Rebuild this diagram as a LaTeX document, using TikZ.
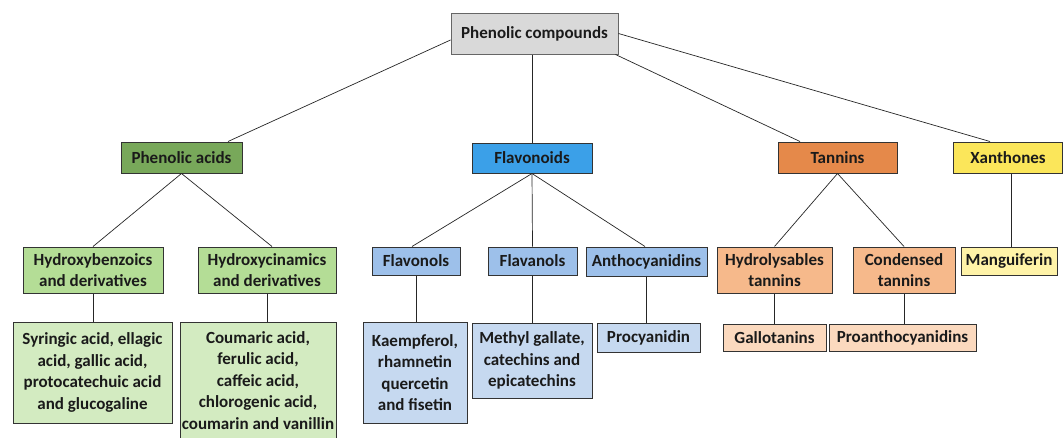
\documentclass[tikz,border=0pt]{standalone}
\usepackage{fontspec}
\setmainfont{Carlito}
\definecolor{topfill}{HTML}{D9D9D9}
\definecolor{pafill}{HTML}{78A85A}
\definecolor{gmid}{HTML}{B4DD96}
\definecolor{glight}{HTML}{D3EBC1}
\definecolor{flfill}{HTML}{3BA0E8}
\definecolor{bmid}{HTML}{9DC0EA}
\definecolor{blight}{HTML}{C6D9F0}
\definecolor{tafill}{HTML}{E5894A}
\definecolor{omid}{HTML}{F6B98B}
\definecolor{olight}{HTML}{FBD9BE}
\definecolor{xafill}{HTML}{FBE65A}
\definecolor{ylight}{HTML}{FFF3A8}
\definecolor{txt}{HTML}{1A1A1A}
\tikzset{
  boxnode/.style={draw=black!80, line width=1pt, inner sep=0pt, align=center,
    text=txt, font=\fontsize{17}{21.5}\selectfont\bfseries},
  conn/.style={draw=black!85, line width=0.7pt},
}
\begin{document}
\begin{tikzpicture}[x=1pt,y=-1pt]
\useasboundingbox[fill=white] (0,0) rectangle (1064,437);
% level 0
\node[boxnode, fill=topfill, draw=black!60, minimum width=167pt, minimum height=41pt] (top) at (534.5,33.5) {Phenolic compounds};
% level 1
\node[boxnode, fill=pafill, minimum width=121pt, minimum height=31pt] (pa) at (181.5,157.5) {Phenolic acids};
\node[boxnode, fill=flfill, minimum width=120pt, minimum height=30pt] (fl) at (532,158) {Flavonoids};
\node[boxnode, fill=tafill, minimum width=119pt, minimum height=31pt] (ta) at (837.5,157.5) {Tannins};
\node[boxnode, fill=xafill, minimum width=109pt, minimum height=31pt] (xa) at (1008,157.5) {Xanthones};
% level 2
\node[boxnode, fill=gmid, minimum width=140pt, minimum height=46pt] (hb) at (93,270) {Hydroxybenzoics\\and derivatives};
\node[boxnode, fill=gmid, minimum width=138pt, minimum height=46pt] (hc) at (267,270) {Hydroxycinamics\\and derivatives};
\node[boxnode, fill=bmid, minimum width=88pt, minimum height=28pt] (fo) at (416,261) {Flavonols};
\node[boxnode, fill=bmid, minimum width=89pt, minimum height=28pt] (fa) at (532.5,261) {Flavanols};
\node[boxnode, fill=bmid, minimum width=121pt, minimum height=29pt] (an) at (646.5,261.5) {Anthocyanidins};
\node[boxnode, fill=omid, minimum width=115pt, minimum height=46pt] (hy) at (774.5,270) {Hydrolysables\\tannins};
\node[boxnode, fill=omid, minimum width=102pt, minimum height=46pt] (cd) at (904,270) {Condensed\\tannins};
\node[boxnode, fill=ylight, minimum width=96pt, minimum height=28pt] (ma) at (1009,261) {Manguiferin};
% level 3
\node[boxnode, fill=glight, minimum width=159pt, minimum height=101pt] (sy) at (92.5,372.5) {Syringic acid, ellagic\\acid, gallic acid,\\protocatechuic acid\\and glucogaline};
\node[boxnode, fill=glight, minimum width=156pt, minimum height=117pt] (co) at (258,380.5) {Coumaric acid,\\ferulic acid,\\caffeic acid,\\chlorogenic acid,\\coumarin and vanillin};
\node[boxnode, fill=blight, minimum width=104pt, minimum height=101pt] (ka) at (415,372.5) {Kaempferol,\\rhamnetin\\quercetin\\and fisetin};
\node[boxnode, fill=blight, minimum width=120pt, minimum height=75pt] (me) at (532,360.5) {Methyl gallate,\\catechins and\\epicatechins};
\node[boxnode, fill=blight, minimum width=103pt, minimum height=29pt] (pr) at (648.5,337.5) {Procyanidin};
\node[boxnode, fill=olight, minimum width=103pt, minimum height=27pt] (ga) at (774.5,337.5) {Gallotanins};
\node[boxnode, fill=olight, minimum width=147pt, minimum height=27pt] (pc) at (902.5,337.5) {Proanthocyanidins};
% connectors
\draw[conn] ([yshift=-6.5pt]top.west) -- ([xshift=46.5pt]pa.north);
\draw[conn] (fl.north |- top.south) -- (fl.north);
\draw[conn] ([xshift=-3pt]top.south east) -- ([xshift=-37.5pt]ta.north);
\draw[conn] (top.east) -- ([xshift=-18pt]xa.north);
\draw[conn] (pa.south) -- (hb.north);
\draw[conn] (pa.south) -- ([xshift=5pt]hc.north);
\draw[conn] (hb.south) -- (hb.south |- sy.north);
\draw[conn] (hc.south) -- (hc.south |- co.north);
\draw[conn] (fl.south) -- ([xshift=-4pt]fo.north);
\draw[conn] (fl.south) -- (fa.north);
\draw[conn] (fl.south) -- ([xshift=-1.5pt]an.north);
\draw[conn] (fo.south) -- (fo.south |- ka.north);
\draw[conn] (fa.south) -- (fa.south |- me.north);
\draw[conn] (an.south) -- (an.south |- pr.north);
\draw[conn] (ta.south) -- (hy.north);
\draw[conn] (ta.south) -- (cd.north);
\draw[conn] (hy.south) -- (hy.south |- ga.north);
\draw[conn] (cd.south) -- (cd.south |- pc.north);
\draw[conn] ([xshift=3pt]xa.south) -- ([xshift=3pt]xa.south |- ma.north);
\end{tikzpicture}
\end{document}
